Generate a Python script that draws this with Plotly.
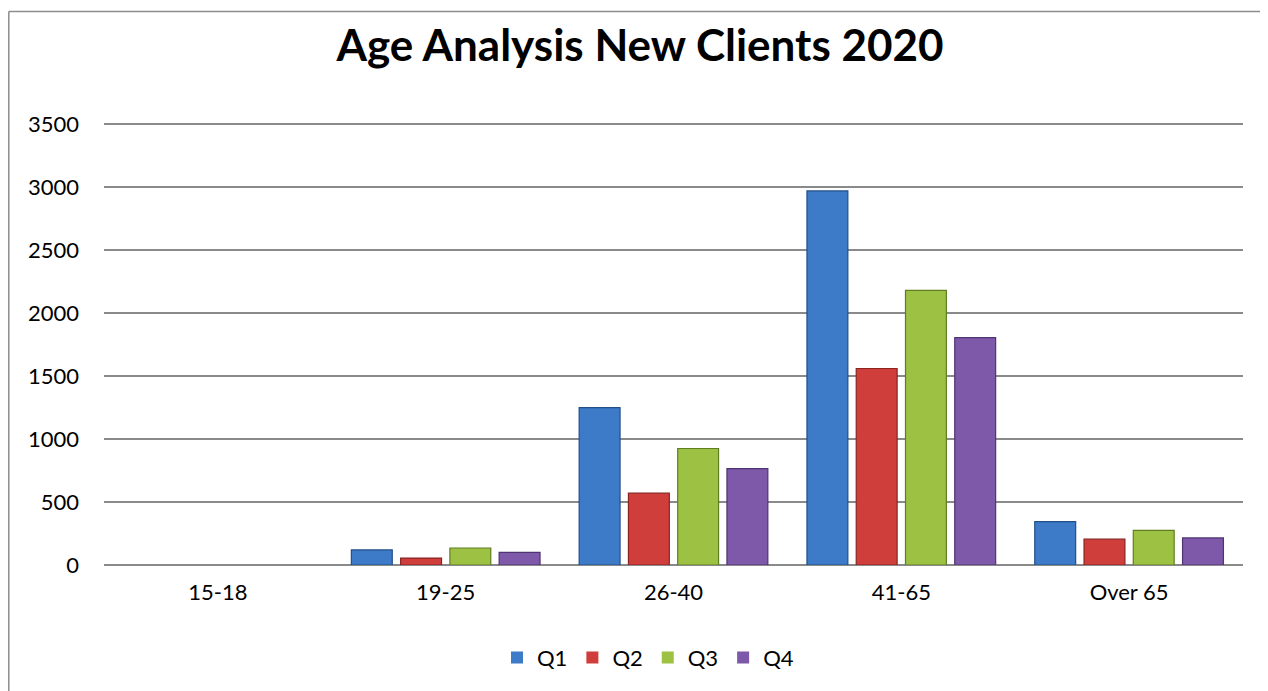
import plotly.graph_objects as go

categories = ["15-18", "19-25", "26-40", "41-65", "Over 65"]
q1 = [0, 120, 1250, 2970, 345]
q2 = [0, 55, 570, 1560, 205]
q3 = [0, 135, 925, 2180, 275]
q4 = [0, 100, 765, 1805, 215]
series_names = ["Q1", "Q2", "Q3", "Q4"]
y_ticks = [0, 500, 1000, 1500, 2000, 2500, 3000, 3500]
y_max = 3525

colors = ["#3D7BC8", "#CF3E3A", "#9DC142", "#7E59AA"]
edges = ["#234E86", "#8A2320", "#5F7E22", "#4E3470"]

# page has an 8px body margin; figure coords = page coords - 8
OFF = 8
W, H = 1260, 683
px_per_unit = 443 / 3500
L, R, B = 104 - OFF, 25, 124
T = round(124 - OFF - (y_max - 3500) * px_per_unit)
pw, ph = W - L - R, H - T - B

fig = go.Figure()
for name, vals, c, e in zip(series_names, [q1, q2, q3, q4], colors, edges):
    fig.add_trace(go.Bar(x=categories, y=vals, name=name,
                         marker=dict(color=c, line=dict(color=e,
                                     width=[1.2 if v > 0 else 0 for v in vals]))))

def px2x(p):
    return (p - OFF - L) / pw

def px2y(p):
    return (H - B - (p - OFF)) / ph

# chart frame (top and left edges visible)
fig.add_shape(type="line", xref="paper", yref="paper",
              x0=(0.8 - L) / pw, x1=(W + 10 - L) / pw, y0=px2y(11), y1=px2y(11),
              line=dict(color="#8C8C8C", width=1.5))
fig.add_shape(type="line", xref="paper", yref="paper",
              x0=(0.8 - L) / pw, x1=(0.8 - L) / pw, y0=px2y(11), y1=px2y(720),
              line=dict(color="#8C8C8C", width=1.5))

fig.update_layout(
    width=W, height=H,
    margin=dict(l=L, r=R, t=T, b=B),
    paper_bgcolor="white", plot_bgcolor="white",
    font=dict(family="Lato, 'Open Sans', sans-serif", size=22, color="#000000"),
    title=dict(text="<b>Age Analysis New Clients 2020</b>", x=px2x(640), xanchor="center",
               xref="paper", y=1 - (46 - OFF) / H, yanchor="middle",
               font=dict(family="Lato, 'Open Sans', sans-serif", size=44, color="#000000")),
    barmode="group", bargap=0.135, bargroupgap=0.17,
    showlegend=True,
    legend=dict(orientation="h", x=px2x(648), xanchor="center",
                y=px2y(660), yanchor="middle", font=dict(size=22),
                itemwidth=30, traceorder="normal"),
    xaxis=dict(showgrid=False, showline=False, ticks="", tickfont=dict(size=22),
               ticklabelstandoff=12),
    yaxis=dict(range=[0, y_max], tickvals=y_ticks, showgrid=True, gridcolor="#8A8A8A",
               gridwidth=1.5, zeroline=True, zerolinecolor="#8A8A8A", zerolinewidth=1.5,
               showline=False, ticks="", tickfont=dict(size=22), ticklabelstandoff=24),
)

fig.write_html("out.html")
